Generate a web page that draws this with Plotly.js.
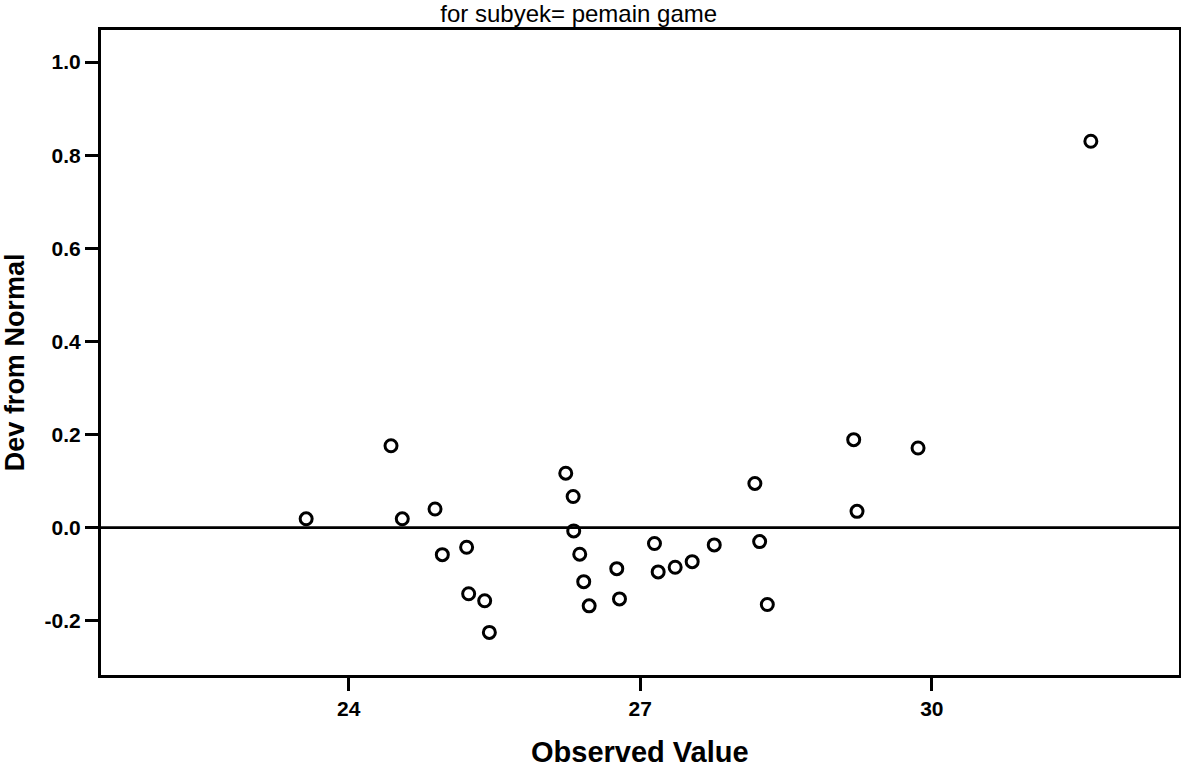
<!DOCTYPE html>
<html>
<head>
<meta charset="utf-8">
<script src="https://cdn.plot.ly/plotly-3.0.1.min.js"></script>
<style>
  html, body { margin: 0; padding: 0; background: #ffffff; }
  #chart { width: 1181px; height: 772px; }
</style>
</head>
<body>
<div id="chart"></div>
<script>
// Detrended normal Q-Q plot: observed values vs. deviation from normal
const observedValue = [
  23.562, 24.435, 24.551, 24.888, 24.963, 25.213, 25.234, 25.399, 25.447,
  26.233, 26.309, 26.315, 26.377, 26.418, 26.474, 26.758, 26.786,
  27.146, 27.184, 27.359, 27.534, 27.761, 28.179, 28.228, 28.307,
  29.196, 29.230, 29.858, 31.636
];
const devFromNormal = [
  0.019, 0.176, 0.019, 0.040, -0.058, -0.042, -0.142, -0.157, -0.225,
  0.117, 0.067, -0.007, -0.057, -0.116, -0.168, -0.088, -0.153,
  -0.034, -0.095, -0.085, -0.073, -0.037, 0.095, -0.030, -0.165,
  0.189, 0.035, 0.171, 0.830
];

const xTickVals = [24, 27, 30];
const yTickVals = [-0.2, 0.0, 0.2, 0.4, 0.6, 0.8, 1.0];

const chartTitle = 'for subyek= pemain game';
const xTitle = 'Observed Value';
const yTitle = 'Dev from Normal';

const FONT = 'Liberation Sans, Arial, Helvetica, sans-serif';

const trace = {
  type: 'scatter',
  mode: 'markers',
  x: observedValue,
  y: devFromNormal,
  marker: {
    symbol: 'circle-open',
    size: 12,
    color: '#000000',
    line: { width: 3, color: '#000000' }
  },
  hoverinfo: 'x+y'
};

const axisCommon = {
  showline: true,
  mirror: true,
  linecolor: '#000000',
  linewidth: 3,
  ticks: 'outside',
  ticklen: 13,
  tickwidth: 2.8,
  tickcolor: '#000000',
  showgrid: false,
  zeroline: false,
  tickfont: { family: FONT, size: 21, color: '#000000', weight: 'bold' }
};

const layout = {
  width: 1181,
  height: 772,
  paper_bgcolor: '#ffffff',
  plot_bgcolor: '#ffffff',
  margin: { l: 101, r: 2, t: 30, b: 96.5 },
  showlegend: false,
  title: {
    text: chartTitle,
    font: { family: FONT, size: 24, color: '#000000' },
    x: 0.49, xref: 'container', xanchor: 'center',
    y: 0.982, yref: 'container', yanchor: 'middle'
  },
  xaxis: Object.assign({}, axisCommon, {
    range: [21.451, 32.543],
    tickmode: 'array',
    tickvals: xTickVals,
    ticktext: xTickVals.map(String)
  }),
  yaxis: Object.assign({}, axisCommon, {
    range: [-0.3165, 1.069],
    tickmode: 'array',
    tickvals: yTickVals,
    ticktext: yTickVals.map(v => v.toFixed(1))
  }),
  shapes: [
    {
      // reference line at zero deviation
      type: 'line', xref: 'paper', yref: 'y',
      x0: 0, x1: 1, y0: 0, y1: 0,
      line: { color: '#000000', width: 2.8 }
    }
  ],
  annotations: [
    {
      text: xTitle, xref: 'paper', yref: 'paper',
      x: 0.5, y: -0.12, xanchor: 'center', yanchor: 'middle',
      showarrow: false,
      font: { family: FONT, size: 29, color: '#000000', weight: 'bold' }
    },
    {
      text: yTitle, xref: 'paper', yref: 'paper',
      x: -0.0798, y: 0.485, xanchor: 'center', yanchor: 'middle',
      textangle: -90, showarrow: false,
      font: { family: FONT, size: 27, color: '#000000', weight: 'bold' }
    }
  ]
};

Plotly.newPlot('chart', [trace], layout, { displayModeBar: false, staticPlot: true });
</script>
</body>
</html>
